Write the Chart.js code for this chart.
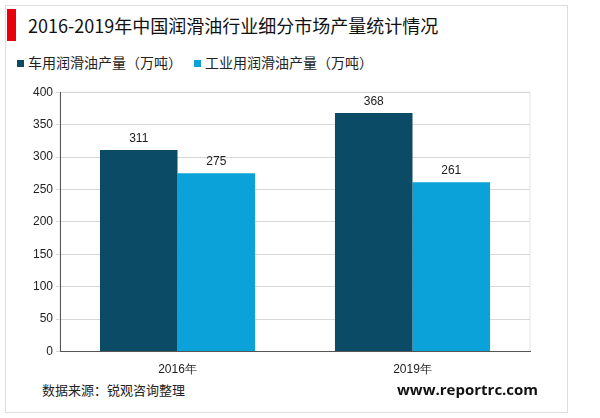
<!DOCTYPE html>
<html><head><meta charset="utf-8">
<script src="https://cdn.jsdelivr.net/npm/chart.js@4"></script>
<style>
body{margin:0;width:600px;height:418px;background:#fff;font-family:"Noto Sans CJK SC",sans-serif;position:relative;overflow:hidden}
#frame{position:absolute;left:5px;top:5px;width:561px;height:406px;border:1px solid #ddd}
#bar{position:absolute;left:7px;top:9px;width:9px;height:32px;background:#e8000b}
#title{position:absolute;left:28px;top:12px;font-size:18px;color:#111;white-space:nowrap}
#src{position:absolute;left:42px;top:380px;font-size:13px;color:#222}
#web{position:absolute;left:397px;top:379px;font-size:15px;font-weight:bold;color:#111;font-family:"Open Sans",sans-serif}
#legend{position:absolute;left:17px;top:52px;font-size:14px;color:#222;white-space:nowrap}
#legend span.b{display:inline-block;width:7px;height:7px;margin-right:4px;vertical-align:middle;position:relative;top:-1px}
#legend span.i{margin-right:12px}
#wrap{position:absolute;left:0;top:82px;width:600px;height:298px}
</style></head><body>
<div id="frame"></div><div id="bar"></div>
<div id="title">2016-2019年中国润滑油行业细分市场产量统计情况</div>
<div id="legend"></div>
<div id="wrap"><canvas id="c"></canvas></div>
<div id="src">数据来源：锐观咨询整理</div>
<div id="web">www.reportrc.com</div>
<script>
const categories=["2016年","2019年"];
const seriesNames=["车用润滑油产量（万吨）","工业用润滑油产量（万吨）"];
const car=[311,368];
const industry=[275,261];
const colors=["#0b4b66","#0aa2d8"];
document.getElementById('legend').innerHTML=seriesNames.map((n,i)=>`<span class="i"><span class="b" style="background:${colors[i]}"></span>${n}</span>`).join('');
const labelPlugin={id:'lbl',afterDatasetsDraw(ch){const x=ch.ctx;x.save();x.font='12px "Liberation Sans"';x.fillStyle='#222';x.textAlign='center';
ch.data.datasets.forEach((d,i)=>ch.getDatasetMeta(i).data.forEach((b,j)=>x.fillText(d.data[j],b.x,b.y-8)));x.restore();}};
const frame={id:'frm',beforeDraw(ch){const a=ch.chartArea,x=ch.ctx;x.save();x.strokeStyle='#e3e3e3';x.lineWidth=1;x.strokeRect(a.left,a.top,a.right-a.left,a.bottom-a.top);x.restore();}};
new Chart(document.getElementById('c'),{type:'bar',
data:{labels:categories,datasets:[
{label:seriesNames[0],data:car,backgroundColor:colors[0]},
{label:seriesNames[1],data:industry,backgroundColor:colors[1]}]},
options:{responsive:true,maintainAspectRatio:false,animation:false,
layout:{padding:{left:30,right:70,top:8,bottom:0}},
datasets:{bar:{categoryPercentage:0.66,barPercentage:1}},
plugins:{legend:{display:false},tooltip:{enabled:false}},
scales:{
x:{grid:{display:false},border:{color:'#555'},ticks:{color:'#222',font:{size:12,family:'"Liberation Sans"'}}},
y:{min:0,max:400,ticks:{stepSize:50,color:'#222',font:{size:12,family:'"Liberation Sans"'}},border:{color:'#555'},grid:{color:'#d8d8d8',tickLength:4,tickBorderDash:[0]},
 }}},
plugins:[labelPlugin,frame,{id:'dash',beforeDraw(ch){ch.scales.y.options.border.dash=[];ch.scales.y.options.grid.borderDash=[3,3];}}]});
</script></body></html>
